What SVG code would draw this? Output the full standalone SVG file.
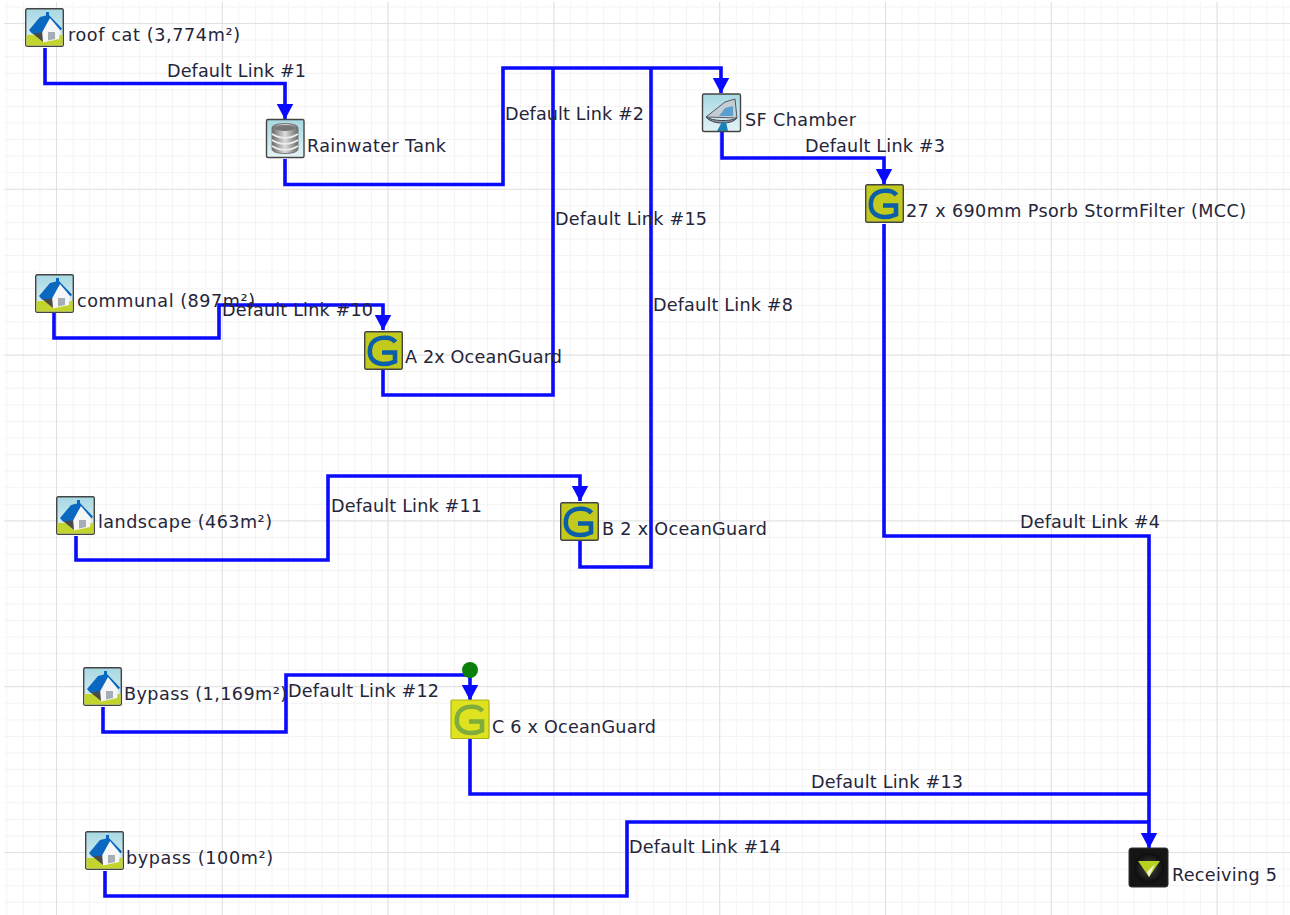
<svg xmlns="http://www.w3.org/2000/svg" width="1290" height="915" viewBox="0 0 1290 915">
<style>
text{font-family:"DejaVu Sans","Noto Sans",sans-serif;font-size:17.6px;fill:#25253a}
.l{fill:none;stroke:#0a0aff;stroke-width:3.6;stroke-linejoin:miter}
.ic{stroke:#444;stroke-width:1.4}
.g{fill:none;stroke-width:4.6;stroke-linecap:butt}
</style>
<defs>
<pattern id="minor" x="6.26" y="6.42" width="16.58" height="16.58" patternUnits="userSpaceOnUse"><path d="M0 0V16.58M0 0H16.58" fill="none" stroke="#f0f0f0" stroke-width="1.4"/></pattern>
<pattern id="major" x="56" y="23" width="165.8" height="165.8" patternUnits="userSpaceOnUse"><path d="M0 0V165.8M0 0H165.8" fill="none" stroke="#dcdcdc" stroke-width="1.7"/></pattern>
<marker id="arrow" markerUnits="userSpaceOnUse" markerWidth="17" markerHeight="18" refX="15.500" refY="8.500" orient="auto"><path d="M0 0L16 8.500L0 17Z" fill="#0a0aff"/></marker>
<linearGradient id="sky" x1="0" y1="0" x2="0" y2="1"><stop offset="0" stop-color="#a6d8e2"/><stop offset="1" stop-color="#e4f3f5"/></linearGradient>
<linearGradient id="metal" x1="0" y1="0" x2="1" y2="0"><stop offset="0" stop-color="#6a6a6a"/><stop offset=".5" stop-color="#ddd"/><stop offset="1" stop-color="#6a6a6a"/></linearGradient>
<radialGradient id="blk"><stop offset="0" stop-color="#444"/><stop offset="1" stop-color="#0c0c0c"/></radialGradient>
<symbol id="house" viewBox="0 0 39 39" overflow="visible">
<rect x=".7" y=".7" width="37.6" height="37.6" rx="1.5" fill="url(#sky)" class="ic"/>
<path d="M1.4 27H37.6V37.6H1.4Z" fill="#c4d42e"/>
<path d="M7 25L18 34V22L10 21Z" fill="#4a4a4a"/>
<path d="M17 22L25 10L35 22L34 31L18 34.500Z" fill="#f6f6f6"/>
<path d="M23 24H30V31L23 32.500Z" fill="#a5adb5"/>
<path d="M4 22L15 9L21 7.500V4H24V7L37 20.500L35.500 22.500L25 10L17 24.500L7 25.500Z" fill="#0a68c0"/>
</symbol>
<symbol id="gbox" viewBox="0 0 39 39" overflow="visible">
<rect x=".7" y=".7" width="37.6" height="37.6" rx="1.5" fill="#c3ca1e" class="ic"/>
<path d="M31.500 11C29 8 24.500 6.300 19.500 6.800C10 7.500 5.800 13 5.800 20.500C5.800 28 11 33 19.500 33C24.500 33 28 32 31 30.500V21.500H18" class="g" stroke="#0b5ea8"/>
</symbol>
</defs>
<rect width="1290" height="915" fill="#fff"/>
<rect x="4" y="2" width="1286" height="913" fill="url(#minor)"/>
<rect x="4" y="2" width="1286" height="913" fill="url(#major)"/>
<g id="connectors">
<path class="l" marker-end="url(#arrow)" d="M45 48V83.500H285V119"/>
<path class="l" marker-end="url(#arrow)" d="M285 159V184.500H503V68H721V93"/>
<path class="l" marker-end="url(#arrow)" d="M722 132V158H884V184"/>
<path class="l" marker-end="url(#arrow)" d="M884 224V536H1149V848"/>
<path class="l" d="M651 68V567H580V541"/>
<path class="l" marker-end="url(#arrow)" d="M54 313V338H219V305H383V330"/>
<path class="l" d="M383 370V395H553V68"/>
<path class="l" marker-end="url(#arrow)" d="M76 536V560H328V476H580V501"/>
<path class="l" marker-end="url(#arrow)" d="M103 707V732H286V675H470V700"/>
<path class="l" d="M470 739V794H1149"/>
<path class="l" d="M105 871V896H627V822H1149"/>
</g>
<g id="link-labels">
<text x="167" y="77" textLength="139">Default Link #1</text>
<text x="505" y="120" textLength="139">Default Link #2</text>
<text x="805" y="152" textLength="140">Default Link #3</text>
<text x="1020" y="528" textLength="140">Default Link #4</text>
<text x="653" y="311" textLength="140">Default Link #8</text>
<text x="222" y="316" textLength="151">Default Link #10</text>
<text x="331" y="512" textLength="151">Default Link #11</text>
<text x="288" y="697" textLength="151">Default Link #12</text>
<text x="811" y="788" textLength="152">Default Link #13</text>
<text x="629" y="853" textLength="152">Default Link #14</text>
<text x="555" y="225" textLength="152">Default Link #15</text>
</g>
<g id="roof-cat"><use href="#house" x="25" y="8" width="39" height="39"/><text x="68" y="41" textLength="172">roof cat (3,774m²)</text></g>
<g id="rainwater-tank">
<rect x="266.500" y="119.500" width="37.500" height="38" rx="1.500" fill="url(#sky)" class="ic"/>
<path d="M272 128C272 122 298 122 298 128V149C298 155 272 155 272 149Z" fill="url(#metal)" stroke="#777"/>
<path d="M272 134C280 139 290 139 298 134M272 140C280 145 290 145 298 140M272 146C280 151 290 151 298 146" fill="none" stroke="#eee" stroke-width="1.500"/>
<ellipse cx="285" cy="128" rx="10" ry="3" fill="#777"/>
<text x="307" y="152" textLength="139">Rainwater Tank</text>
</g>
<g id="sf-chamber">
<rect x="702.500" y="94" width="38" height="37.500" rx="1.500" fill="url(#sky)" class="ic"/>
<path d="M706 117L725 102L735 99L737 118Z" fill="#c4ced2" stroke="#556"/>
<path d="M706 117C712 121 730 122 737 118C732 125 712 125 706 117Z" fill="#8c969a" stroke="#445"/>
<path d="M719 116H733V106L725 108Z" fill="#5a9fcf"/>
<path d="M717 131L722 122L726 122L728 131Z" fill="#1b7fb5"/>
<text x="745" y="126" textLength="111">SF Chamber</text>
</g>
<g id="stormfilter"><use href="#gbox" x="865" y="184" width="39" height="39"/><text x="906" y="217" textLength="340">27 x 690mm Psorb StormFilter (MCC)</text></g>
<g id="communal"><use href="#house" x="35" y="274" width="39" height="39"/><text x="77" y="307" textLength="178">communal (897m²)</text></g>
<g id="a-oceanguard"><use href="#gbox" x="364" y="331" width="39" height="39"/><text x="405" y="363" textLength="157">A 2x OceanGuard</text></g>
<g id="landscape"><use href="#house" x="56" y="496" width="39" height="39"/><text x="98" y="528" textLength="174">landscape (463m²)</text></g>
<g id="b-oceanguard"><use href="#gbox" x="560" y="502" width="39" height="39"/><text x="602" y="535" textLength="165">B 2 x OceanGuard</text></g>
<g id="bypass-1169"><use href="#house" x="83" y="667" width="39" height="39"/><text x="124" y="700" textLength="163">Bypass (1,169m²)</text></g>
<g id="c-oceanguard">
<rect x="451" y="700" width="38" height="38.500" rx="1" fill="#dfe21e" stroke="#aeb014" stroke-width="1.200"/>
<path d="M482.500 711C480 708 475.500 706.300 470.500 706.800C461 707.500 456.800 713 456.800 720.500C456.800 728 462 733 470.500 733C475.500 733 479 732 482 730.500V721.500H469" class="g" stroke="#7fac3c"/>
<text x="492" y="733" textLength="164">C 6 x OceanGuard</text>
</g>
<circle id="selection-handle" cx="470" cy="670" r="8" fill="#0a800a"/>
<g id="bypass-100"><use href="#house" x="85" y="831" width="39" height="39"/><text x="126" y="864" textLength="147">bypass (100m²)</text></g>
<g id="receiving-5">
<rect x="1129" y="848" width="39" height="39" rx="2.500" fill="#151515" stroke="#333"/>
<circle cx="1149" cy="868" r="15" fill="url(#blk)"/>
<path d="M1138 861H1160L1149 877Z" fill="#b8d01e"/>
<path d="M1155 864L1149 877L1147 872Z" fill="#f4f4e0"/>
<text x="1172" y="881" textLength="105">Receiving 5</text>
</g>
</svg>
